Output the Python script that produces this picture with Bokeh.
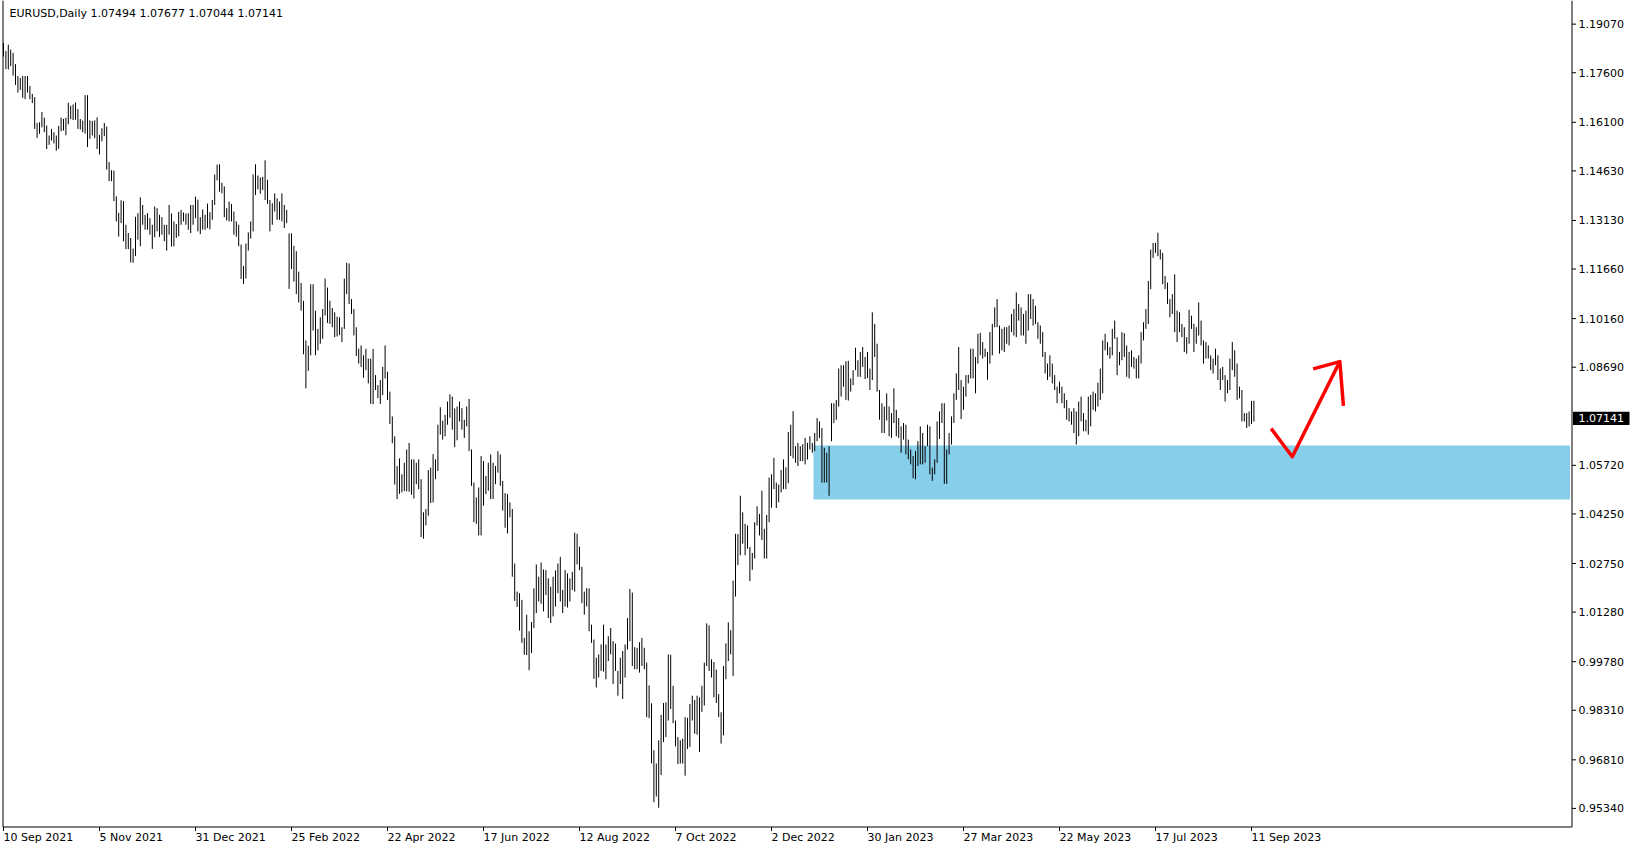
from bokeh.plotting import figure
from bokeh.models import Range1d
from bokeh.core.properties import value
from bokeh.embed import file_html
from bokeh.resources import INLINE

# ---------------- data ----------------
symbol_title = "EURUSD,Daily"
last_ohlc = [1.07494, 1.07677, 1.07044, 1.07141]

bar_high = [
    1.1850, 1.1826, 1.1845, 1.1830, 1.1820, 1.1786, 1.1750, 1.1744, 1.1750, 1.1750,
    1.1750, 1.1720, 1.1696, 1.1686, 1.1608, 1.1610, 1.1641, 1.1624, 1.1600, 1.1570,
    1.1590, 1.1580, 1.1570, 1.1599, 1.1624, 1.1620, 1.1624, 1.1669, 1.1660, 1.1664,
    1.1670, 1.1650, 1.1620, 1.1615, 1.1692, 1.1692, 1.1616, 1.1614, 1.1616, 1.1625,
    1.1572, 1.1592, 1.1608, 1.1597, 1.1490, 1.1465, 1.1464, 1.1386, 1.1336, 1.1374,
    1.1372, 1.1300, 1.1275, 1.1260, 1.1228, 1.1324, 1.1335, 1.1383, 1.1360, 1.1330,
    1.1335, 1.1320, 1.1300, 1.1355, 1.1350, 1.1330, 1.1323, 1.1300, 1.1300, 1.1360,
    1.1334, 1.1310, 1.1302, 1.1339, 1.1345, 1.1337, 1.1334, 1.1335, 1.1360, 1.1360,
    1.1385, 1.1376, 1.1323, 1.1346, 1.1330, 1.1364, 1.1338, 1.1375, 1.1452, 1.1482,
    1.1483, 1.1427, 1.1416, 1.1350, 1.1370, 1.1363, 1.1340, 1.1310, 1.1300, 1.1240,
    1.1175, 1.1243, 1.1277, 1.1310, 1.1452, 1.1483, 1.1449, 1.1443, 1.1445, 1.1495,
    1.1436, 1.1375, 1.1365, 1.1395, 1.1380, 1.1370, 1.1395, 1.1360, 1.1345, 1.1274,
    1.1274, 1.1236, 1.1220, 1.1158, 1.1124, 1.1070, 1.0950, 1.0934, 1.1120, 1.1120,
    1.1040, 1.0985, 1.1020, 1.1045, 1.1137, 1.1110, 1.1070, 1.1048, 1.1035, 1.1022,
    1.1020, 1.0990, 1.1137, 1.1185, 1.1183, 1.1075, 1.1045, 1.0990, 1.0925, 1.0935,
    1.0905, 1.0925, 1.0895, 1.0895, 1.0924, 1.0845, 1.0815, 1.0830, 1.0870, 1.0935,
    1.0855, 1.0795, 1.0720, 1.0660, 1.0570, 1.0593, 1.0545, 1.0580, 1.0620, 1.0640,
    1.0590, 1.0590, 1.0580, 1.0590, 1.0530, 1.0430, 1.0440, 1.0558, 1.0565, 1.0606,
    1.0590, 1.0695, 1.0748, 1.0707, 1.0725, 1.0765, 1.0787, 1.0780, 1.0744, 1.0750,
    1.0765, 1.0745, 1.0710, 1.0750, 1.0773, 1.0620, 1.0520, 1.0475, 1.0505, 1.0600,
    1.0585, 1.0540, 1.0580, 1.0605, 1.0580, 1.0570, 1.0615, 1.0605, 1.0525, 1.0488,
    1.0485, 1.0460, 1.0440, 1.0275, 1.0190, 1.0185, 1.0165, 1.0050, 1.0120, 1.0070,
    1.0098, 1.0200, 1.0272, 1.0235, 1.0278, 1.0257, 1.0255, 1.0230, 1.0205, 1.0235,
    1.0254, 1.0275, 1.0295, 1.0195, 1.0255, 1.0245, 1.0230, 1.0250, 1.0368, 1.0365,
    1.0326, 1.0265, 1.0190, 1.0200, 1.0200, 1.0090, 1.0045, 0.9990, 1.0000, 1.0030,
    1.0090, 1.0030, 1.0055, 1.0080, 1.0040, 1.0033, 0.9950, 0.9990, 1.0010, 1.0030,
    1.0110, 1.0198, 1.0187, 1.0022, 1.0020, 1.0037, 1.0050, 1.0020, 0.9975, 0.9906,
    0.9852, 0.9710, 0.9670, 0.9740, 0.9817, 0.9853, 0.9855, 1.0000, 0.9999, 0.9905,
    0.9800, 0.9750, 0.9740, 0.9745, 0.9810, 0.9808, 0.9850, 0.9875, 0.9862, 0.9875,
    0.9870, 0.9905, 0.9975, 1.0094, 1.0088, 0.9985, 0.9977, 0.9954, 0.9880, 0.9825,
    0.9965, 1.0033, 1.0097, 1.0073, 1.0223, 1.0365, 1.0364, 1.0480, 1.0430, 1.0395,
    1.0390, 1.0325, 1.0307, 1.0400, 1.0448, 1.0425, 1.0495, 1.0380, 1.0422, 1.0535,
    1.0545, 1.0595, 1.0520, 1.0514, 1.0558, 1.0590, 1.0566, 1.0673, 1.0695, 1.0736,
    1.0630, 1.0640, 1.0630, 1.0636, 1.0655, 1.0640, 1.0660, 1.0640, 1.0670, 1.0715,
    1.0705, 1.0685, 1.0625, 1.0610, 1.0630, 1.0760, 1.0760, 1.0770, 1.0865, 1.0875,
    1.0875, 1.0887, 1.0888, 1.0835, 1.0860, 1.0928, 1.0890, 1.0915, 1.0930, 1.0900,
    1.0915, 1.0865, 1.1035, 1.1000, 1.0940, 1.0800, 1.0760, 1.0750, 1.0790, 1.0750,
    1.0730, 1.0805, 1.0740, 1.0715, 1.0690, 1.0700, 1.0695, 1.0650, 1.0620, 1.0600,
    1.0615, 1.0645, 1.0690, 1.0670, 1.0630, 1.0695, 1.0690, 1.0565, 1.0590, 1.0705,
    1.0735, 1.0760, 1.0760, 1.0620, 1.0670, 1.0720, 1.0790, 1.0850, 1.0930, 1.0830,
    1.0810, 1.0845, 1.0846, 1.0925, 1.0925, 1.0900, 1.0970, 1.0973, 1.0945, 1.0925,
    1.0915, 1.0975, 1.1000, 1.1050, 1.1075, 1.0995, 1.0985, 1.0990, 1.0990, 1.0995,
    1.1030, 1.1045, 1.1095, 1.1060, 1.1050, 1.1030, 1.1040, 1.1090, 1.1090, 1.1075,
    1.1055, 1.1005, 1.0995, 1.0975, 1.0915, 1.0880, 1.0905, 1.0880, 1.0845, 1.0810,
    1.0825, 1.0810, 1.0790, 1.0770, 1.0745, 1.0735, 1.0745, 1.0735, 1.0765, 1.0780,
    1.0730, 1.0710, 1.0780, 1.0785, 1.0795, 1.0790, 1.0822, 1.0865, 1.0950, 1.0970,
    1.0945, 1.0930, 1.0985, 1.1010, 1.0960, 1.0915, 1.0975, 1.0972, 1.0935, 1.0915,
    1.0920, 1.0900, 1.0895, 1.0905, 1.0975, 1.1005, 1.1045, 1.1130, 1.1225, 1.1245,
    1.1245, 1.1276, 1.1225, 1.1215, 1.1145, 1.1125, 1.1075, 1.1090, 1.1150, 1.1040,
    1.1035, 1.1000, 1.0990, 1.0960, 1.1043, 1.1025, 1.1000, 1.0990, 1.1065, 1.1010,
    1.0950, 1.0945, 1.0935, 1.0905, 1.0895, 1.0925, 1.0905, 1.0865, 1.0870, 1.0845,
    1.0830, 1.0895, 1.0945, 1.0920, 1.0880, 1.0810, 1.0800, 1.0730, 1.0730, 1.0735,
    1.0767, 1.07677,
]

bar_low = [
    1.1809, 1.1771, 1.1770, 1.1780, 1.1751, 1.1723, 1.1700, 1.1708, 1.1684, 1.1680,
    1.1700, 1.1680, 1.1668, 1.1590, 1.1563, 1.1575, 1.1595, 1.1580, 1.1529, 1.1542,
    1.1555, 1.1546, 1.1524, 1.1530, 1.1583, 1.1585, 1.1571, 1.1604, 1.1620, 1.1617,
    1.1618, 1.1590, 1.1588, 1.1580, 1.1576, 1.1535, 1.1560, 1.1570, 1.1562, 1.1529,
    1.1513, 1.1552, 1.1568, 1.1467, 1.1432, 1.1432, 1.1372, 1.1310, 1.1264, 1.1305,
    1.1250, 1.1226, 1.1226, 1.1186, 1.1185, 1.1205, 1.1255, 1.1235, 1.1300, 1.1285,
    1.1285, 1.1270, 1.1227, 1.1262, 1.1280, 1.1263, 1.1270, 1.1250, 1.1222, 1.1270,
    1.1234, 1.1235, 1.1260, 1.1265, 1.1300, 1.1310, 1.1300, 1.1285, 1.1275, 1.1300,
    1.1320, 1.1280, 1.1272, 1.1285, 1.1285, 1.1290, 1.1286, 1.1315, 1.1360, 1.1434,
    1.1400, 1.1395, 1.1323, 1.1313, 1.1310, 1.1310, 1.1270, 1.1264, 1.1235, 1.1136,
    1.1121, 1.1137, 1.1222, 1.1258, 1.1280, 1.1390, 1.1407, 1.1394, 1.1405, 1.1375,
    1.1363, 1.1280, 1.1300, 1.1340, 1.1315, 1.1315, 1.1310, 1.1290, 1.1305, 1.1106,
    1.1166, 1.1128, 1.1090, 1.1065, 1.1040, 1.0908, 1.0805, 1.0858, 1.0905, 1.0980,
    1.0905, 1.0920, 1.0940, 1.0955, 1.1025, 1.1003, 1.1000, 1.0990, 1.0960, 1.0962,
    1.0966, 1.0945, 1.0985, 1.1090, 1.1060, 1.1030, 1.0965, 1.0903, 1.0880, 1.0870,
    1.0837, 1.0860, 1.0820, 1.0758, 1.0757, 1.0800, 1.0775, 1.0758, 1.0785, 1.0835,
    1.0770, 1.0697, 1.0639, 1.0514, 1.0470, 1.0486, 1.0490, 1.0494, 1.0493, 1.0492,
    1.0483, 1.0472, 1.0515, 1.0500, 1.0355, 1.0350, 1.0390, 1.0420, 1.0458, 1.0460,
    1.0530, 1.0555, 1.0665, 1.0650, 1.0660, 1.0695, 1.0716, 1.0680, 1.0627, 1.0648,
    1.0705, 1.0680, 1.0655, 1.0690, 1.0615, 1.0510, 1.0400, 1.0395, 1.0360, 1.0360,
    1.0450, 1.0485, 1.0495, 1.0470, 1.0470, 1.0515, 1.0550, 1.0510, 1.0435, 1.0383,
    1.0366, 1.0415, 1.0235, 1.0162, 1.0144, 1.0072, 1.0035, 0.9999, 0.9998, 0.9952,
    1.0004, 1.0080, 1.0125, 1.0160, 1.0153, 1.0130, 1.0180, 1.0110, 1.0095, 1.0115,
    1.0145, 1.0185, 1.0160, 1.0125, 1.0145, 1.0142, 1.0160, 1.0195, 1.0190, 1.0272,
    1.0255, 1.0155, 1.0120, 1.0145, 1.0070, 1.0035, 0.9926, 0.9900, 0.9930, 0.9950,
    0.9948, 0.9925, 0.9980, 1.0000, 0.9910, 0.9950, 0.9875, 0.9910, 0.9865, 0.9930,
    1.0015, 1.0040, 0.9965, 0.9955, 0.9955, 0.9945, 0.9965, 0.9955, 0.9810, 0.9807,
    0.9670, 0.9553, 0.9570, 0.9536, 0.9635, 0.9735, 0.9750, 0.9800, 0.9835, 0.9792,
    0.9722, 0.9668, 0.9670, 0.9670, 0.9633, 0.9714, 0.9720, 0.9800, 0.9760, 0.9757,
    0.9705, 0.9826, 0.9845, 0.9965, 0.9950, 0.9930, 0.9870, 0.9853, 0.9810, 0.9730,
    0.9755, 0.9925, 0.9980, 1.0000, 0.9935, 1.0175, 1.0270, 1.0300, 1.0335, 1.0300,
    1.0320, 1.0222, 1.0256, 1.0290, 1.0390, 1.0360, 1.0346, 1.0290, 1.0290, 1.0400,
    1.0444, 1.0500, 1.0443, 1.0460, 1.0490, 1.0500, 1.0500, 1.0518, 1.0600, 1.0593,
    1.0580, 1.0570, 1.0585, 1.0585, 1.0575, 1.0590, 1.0620, 1.0610, 1.0615, 1.0645,
    1.0655, 1.0520, 1.0520, 1.0520, 1.0480, 1.0645, 1.0700, 1.0710, 1.0750, 1.0780,
    1.0810, 1.0770, 1.0768, 1.0795, 1.0815, 1.0860, 1.0840, 1.0840, 1.0870, 1.0833,
    1.0836, 1.0800, 1.0830, 1.0900, 1.0795, 1.0710, 1.0670, 1.0670, 1.0708, 1.0660,
    1.0655, 1.0700, 1.0660, 1.0655, 1.0610, 1.0650, 1.0605, 1.0590, 1.0575, 1.0533,
    1.0530, 1.0570, 1.0575, 1.0575, 1.0580, 1.0630, 1.0545, 1.0525, 1.0545, 1.0580,
    1.0652, 1.0700, 1.0516, 1.0516, 1.0605, 1.0635, 1.0700, 1.0770, 1.0800, 1.0712,
    1.0740, 1.0780, 1.0820, 1.0835, 1.0835, 1.0790, 1.0880, 1.0905, 1.0895, 1.0900,
    1.0831, 1.0880, 1.0905, 1.0990, 1.0990, 1.0910, 1.0920, 1.0915, 1.0940, 1.0935,
    1.0975, 1.0965, 1.0960, 1.1010, 1.0965, 1.0965, 1.0940, 1.0980, 1.1015, 1.0995,
    1.1000, 1.0955, 1.0940, 1.0900, 1.0850, 1.0830, 1.0840, 1.0820, 1.0800, 1.0760,
    1.0790, 1.0760, 1.0745, 1.0710, 1.0705, 1.0695, 1.0670, 1.0635, 1.0660, 1.0705,
    1.0675, 1.0675, 1.0665, 1.0690, 1.0740, 1.0735, 1.0750, 1.0770, 1.0790, 1.0920,
    1.0905, 1.0895, 1.0905, 1.0955, 1.0845, 1.0875, 1.0890, 1.0900, 1.0840, 1.0835,
    1.0870, 1.0865, 1.0835, 1.0835, 1.0880, 1.0950, 1.0985, 1.1000, 1.1105, 1.1200,
    1.1215, 1.1205, 1.1195, 1.1120, 1.1105, 1.1060, 1.1020, 1.1030, 1.0975, 1.0945,
    1.0975, 1.0960, 1.0915, 1.0910, 1.0940, 1.0985, 1.0915, 1.0940, 1.0965, 1.0935,
    1.0880, 1.0895, 1.0895, 1.0860, 1.0850, 1.0875, 1.0830, 1.0800, 1.0830, 1.0765,
    1.0790, 1.0800, 1.0860, 1.0840, 1.0770, 1.0775, 1.0705, 1.0705, 1.0685, 1.0690,
    1.0697, 1.07044,
]

date_labels = [
    "10 Sep 2021", "5 Nov 2021", "31 Dec 2021", "25 Feb 2022", "22 Apr 2022",
    "17 Jun 2022", "12 Aug 2022", "7 Oct 2022", "2 Dec 2022", "30 Jan 2023",
    "27 Mar 2023", "22 May 2023", "17 Jul 2023", "11 Sep 2023",
]
bars_per_date_label = 40

price_ticks = [
    0.95340, 0.96810, 0.98310, 0.99780, 1.01280, 1.02750, 1.04250, 1.05720,
    1.08690, 1.10160, 1.11660, 1.13130, 1.14630, 1.16100, 1.17600, 1.19070,
]

# support zone (drawn object) and hand-drawn arrow, in bar / price units
zone_start_bar = 337.5
zone_prices = [1.0469, 1.0632]
arrow_bars = [528.2, 537.0, 556.8]
arrow_prices = [1.0683, 1.0598, 1.0886]
arrow_head_bars = [545.7, 556.8, 558.3]
arrow_head_prices = [1.0864, 1.0886, 1.0752]

# ---------------- layout (MT4-style window, pixel geometry) ----------------
FONT = "DejaVu Sans"
FS = "11px"
W, H = 1635, 850
BAR0_PX, PX_PER_BAR = 3.0, 2.4            # x pixel of bar 0, spacing
REF_PRICE, REF_PY, PX_PER_UNIT = 1.0869, 366.7, 3305.0
CHART_LEFT, CHART_RIGHT, CHART_BOTTOM = 2.5, 1571.5, 826.5


def bar_at(px):
    return (px - BAR0_PX) / PX_PER_BAR


def price_at(py):
    return REF_PRICE + (REF_PY - py) / PX_PER_UNIT


p = figure(
    width=W, height=H,
    x_range=Range1d(bar_at(0), bar_at(W)), y_range=Range1d(price_at(H), price_at(0)),
    output_backend="svg", toolbar_location=None,
    x_axis_location=None, y_axis_location=None,
    min_border=0, background_fill_color="white", border_fill_color="white",
)
p.grid.visible = False
p.outline_line_color = None

n = len(bar_high)
idx = list(range(n))

# support zone (behind the bars)
p.quad(left=zone_start_bar, right=bar_at(CHART_RIGHT - 2), bottom=zone_prices[0],
       top=zone_prices[1], fill_color="#87CEEB", line_color=None)

# daily bars (high-low)
p.segment(x0=idx, y0=bar_low, x1=idx, y1=bar_high, line_color="black", line_width=1)

# red hand-drawn arrow
p.line(arrow_bars, arrow_prices, line_color="#FF0000", line_width=3.5, line_join="round")
p.line(arrow_head_bars, arrow_head_prices, line_color="#FF0000", line_width=3.5,
       line_join="round")

# chart frame: left, price-scale separator, time-scale separator
top_p, bot_p = price_at(0), price_at(CHART_BOTTOM)
lx, rx = bar_at(CHART_LEFT), bar_at(CHART_RIGHT)
p.segment(x0=[lx, rx, lx], y0=[top_p, top_p, bot_p], x1=[lx, rx, rx], y1=[bot_p, bot_p, bot_p],
          line_color="black", line_width=1)

# price scale: ticks + labels
p.segment(x0=[rx] * len(price_ticks), x1=[bar_at(CHART_RIGHT + 4)] * len(price_ticks),
          y0=price_ticks, y1=price_ticks, line_color="black", line_width=1)
p.text(x=[bar_at(1578)] * len(price_ticks), y=price_ticks,
       text=[f"{v:.5f}" for v in price_ticks],
       text_font=value(FONT), text_font_size=FS, text_color="black",
       text_align="left", text_baseline="middle")

# current price marker on the price scale
box_half = 6.6 / PX_PER_UNIT
p.quad(left=bar_at(1572.5), right=bar_at(1629), bottom=last_ohlc[3] - box_half,
       top=last_ohlc[3] + box_half, fill_color="black", line_color=None)
p.text(x=[bar_at(1578)], y=[last_ohlc[3]], text=[f"{last_ohlc[3]:.5f}"],
       text_font=value(FONT), text_font_size=FS, text_color="white",
       text_align="left", text_baseline="middle")

# time scale: ticks + labels (left-aligned at the labelled bar)
date_ticks = [k * bars_per_date_label for k in range(len(date_labels))]
p.segment(x0=date_ticks, x1=date_ticks, y0=[bot_p] * len(date_ticks),
          y1=[price_at(CHART_BOTTOM + 4)] * len(date_ticks), line_color="black", line_width=1)
p.text(x=date_ticks, y=[price_at(836.5)] * len(date_ticks), text=date_labels,
       x_offset=0, text_font=value(FONT), text_font_size=FS, text_color="black",
       text_align="left", text_baseline="middle")

# header line
header = symbol_title + "  " + " ".join(f"{v:.5f}" for v in last_ohlc)
p.text(x=[bar_at(9)], y=[price_at(12.5)], text=[header],
       text_font=value(FONT), text_font_size=FS, text_color="black",
       text_align="left", text_baseline="middle")

open("out.html", "w").write(file_html(p, INLINE))
